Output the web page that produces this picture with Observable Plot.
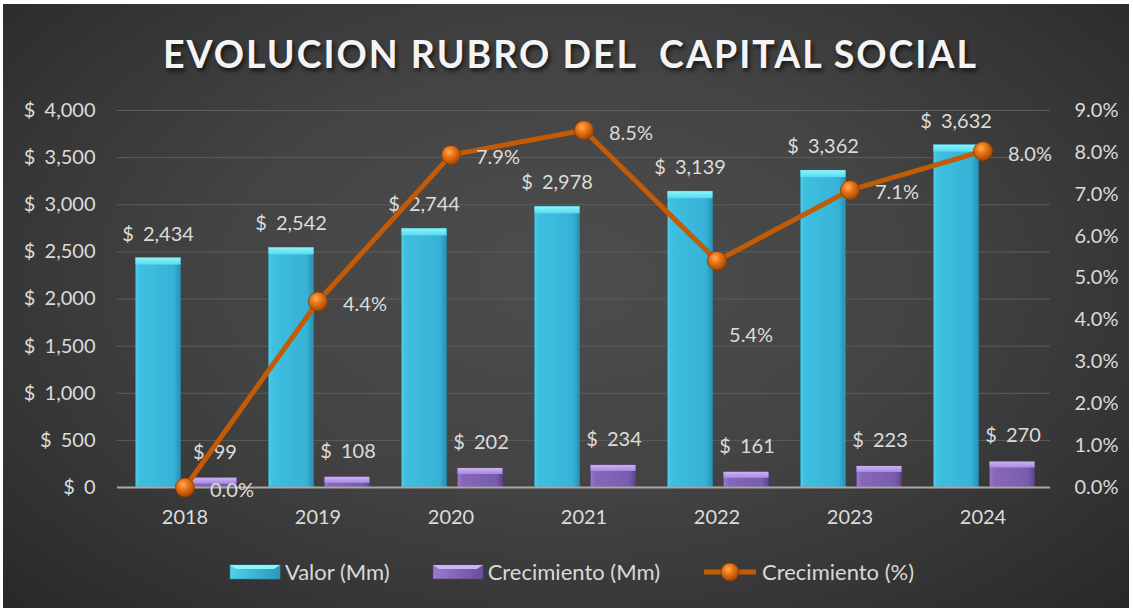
<!DOCTYPE html>
<html>
<head>
<meta charset="utf-8">
<script src="https://cdn.jsdelivr.net/npm/d3@7"></script>
<script src="https://cdn.jsdelivr.net/npm/@observablehq/plot@0.6"></script>
<style>
  html, body { margin: 0; padding: 0; background: #ffffff; }
  #frame {
    position: absolute; left: 3px; top: 4px; width: 1126px; height: 604px;
    background: radial-gradient(ellipse 75% 85% at 50% 45%, #4d4d4d 0%, #444444 40%, #353535 70%, #242424 100%);
    overflow: hidden;
  }
  #title {
    position: absolute; left: 0; top: 31px; width: 1133px; text-align: center;
    font-family: "Lato", sans-serif; font-weight: 700; font-size: 37.5px; letter-spacing: 2px;
    color: #f4f4f4; text-shadow: 2px 3px 4px rgba(0,0,0,0.65); padding-left: 8px; box-sizing: border-box;
    white-space: pre;
  }
  #chart { position: absolute; left: 0; top: 90px; }
  #chart svg text { word-spacing: 4px; }
  #legend {
    position: absolute; left: 0; top: 558px; width: 1133px; display: flex; justify-content: center;
    align-items: center; font-family: "Lato", sans-serif; font-size: 22px; color: #d9d9d9; padding-left: 10px; box-sizing: border-box;
  }
  .item { display: flex; align-items: center; margin: 0 21px; }
  .item svg { margin-right: 4px; }
</style>
</head>
<body>
<div id="frame"></div>
<div id="title">EVOLUCION RUBRO DEL  CAPITAL SOCIAL</div>
<div id="chart"></div>
<div id="legend"></div>
<script>
// ---- data ----
const years = ["2018", "2019", "2020", "2021", "2022", "2023", "2024"];
const valorMm = [2434, 2542, 2744, 2978, 3139, 3362, 3632];
const crecimientoMm = [99, 108, 202, 234, 161, 223, 270];
const crecimientoPct = [0.0, 4.44, 7.94, 8.53, 5.41, 7.10, 8.03];
const yTicks = [0, 500, 1000, 1500, 2000, 2500, 3000, 3500, 4000];
const pctTicks = [0, 1, 2, 3, 4, 5, 6, 7, 8, 9];
const legendLabels = ["Valor (Mm)", "Crecimiento (Mm)", "Crecimiento (%)"];

const yMax = 4000, pctMax = 9;
const toY = p => p * yMax / pctMax;

const rows = years.map((year, i) => ({
  year, valor: valorMm[i], crec: crecimientoMm[i], pct: crecimientoPct[i], pctY: toY(crecimientoPct[i])
}));

const money = d => "$ " + d3.format(",")(d);
const labelColor = "#dcdcdc";
const fs = 20;

const plot = Plot.plot({
  width: 1133,
  height: 457,
  marginTop: 20,
  marginBottom: 60,
  marginLeft: 117,
  marginRight: 83,
  style: { background: "transparent", color: labelColor, fontFamily: "Lato, sans-serif", fontSize: fs + "px" },
  x: { type: "band", domain: years, paddingInner: 0, paddingOuter: 0, label: null },
  y: { domain: [0, yMax], label: null },
  marks: [
    Plot.ruleY(yTicks.slice(1), { stroke: "#5d5d5d", strokeWidth: 1 }),
    // Valor bars
    Plot.barY(rows, { x: "year", y: "valor", fill: "url(#gCyan)", insetLeft: 17.5, insetRight: 70.5, stroke: "#2a8fae", strokeWidth: 0.6 }),
    Plot.barY(rows, { x: "year", y1: "valor", y2: "valor", insetBottom: -7, fill: "url(#gCyanTop)", insetLeft: 17.5, insetRight: 70.5 }),
    // Crecimiento bars
    Plot.barY(rows, { x: "year", y: "crec", fill: "url(#gPurple)", insetLeft: 73.5, insetRight: 14.5, stroke: "#5a3f86", strokeWidth: 0.6 }),
    Plot.barY(rows, { x: "year", y1: "crec", y2: "crec", insetBottom: -6, fill: "url(#gPurpleTop)", insetLeft: 73.5, insetRight: 14.5 }),
    Plot.ruleY([0], { stroke: "#a8a8a8", strokeWidth: 2 }),
    // bar labels
    Plot.text(rows, { x: "year", y: "valor", text: d => money(d.valor), dx: -27, dy: -24, fill: labelColor, fontSize: fs }),
    Plot.text(rows, { x: "year", y: "crec", text: d => money(d.crec), dx: 30, dy: -26, fill: labelColor, fontSize: fs }),
    // line
    Plot.line(rows, { x: "year", y: "pctY", stroke: "#c25a06", strokeWidth: 5, curve: "linear" }),
    Plot.dot(rows, { x: "year", y: "pctY", r: 9.5, fill: "url(#gOrange)", stroke: "#8a3a00", strokeWidth: 0.8 }),
    Plot.text(rows.filter(d => d.year !== "2022"), { x: "year", y: "pctY", text: d => d.pct.toFixed(1) + "%", dx: 25, dy: 3, textAnchor: "start", fill: labelColor, fontSize: fs }),
    Plot.text(rows.filter(d => d.year === "2022"), { x: "year", y: "pctY", text: d => d.pct.toFixed(1) + "%", dx: 34, dy: 75, fill: labelColor, fontSize: fs }),
    // axes
    Plot.axisY(yTicks, { anchor: "left", tickSize: 0, tickPadding: 22, tickFormat: money, label: null, fontSize: fs }),
    Plot.axisY(pctTicks.map(toY), { anchor: "right", tickSize: 0, tickPadding: 24, tickFormat: d => (d * pctMax / yMax).toFixed(1) + "%", label: null, fontSize: fs }),
    Plot.axisX({ tickSize: 0, tickPadding: 22, label: null, fontSize: fs })
  ]
});

const defs = `
<defs>
  <linearGradient id="gCyan" x1="0" y1="0" x2="1" y2="0">
    <stop offset="0" stop-color="#52d0ec"/>
    <stop offset="0.08" stop-color="#3fc0e0"/>
    <stop offset="0.85" stop-color="#36b2d6"/>
    <stop offset="1" stop-color="#2690b4"/>
  </linearGradient>
  <linearGradient id="gCyanTop" x1="0" y1="0" x2="0" y2="1">
    <stop offset="0" stop-color="#8af6fc"/>
    <stop offset="1" stop-color="#5ad8ef"/>
  </linearGradient>
  <linearGradient id="gPurple" x1="0" y1="0" x2="1" y2="0">
    <stop offset="0" stop-color="#9a7ccc"/>
    <stop offset="0.1" stop-color="#8767bb"/>
    <stop offset="0.85" stop-color="#7a5cae"/>
    <stop offset="1" stop-color="#5f4490"/>
  </linearGradient>
  <linearGradient id="gPurpleTop" x1="0" y1="0" x2="0" y2="1">
    <stop offset="0" stop-color="#cdb2f4"/>
    <stop offset="1" stop-color="#a98ae0"/>
  </linearGradient>
  <radialGradient id="gOrange" cx="0.4" cy="0.35" r="0.7">
    <stop offset="0" stop-color="#ffb060"/>
    <stop offset="0.35" stop-color="#ee7a1a"/>
    <stop offset="1" stop-color="#9c4000"/>
  </radialGradient>
</defs>`;
plot.insertAdjacentHTML("afterbegin", defs);
document.getElementById("chart").appendChild(plot);

// legend
const sw = {
  cyan: `<svg width="52" height="16"><rect x="1" y="1" width="50" height="14" fill="url(#lgC)" stroke="#2a8fae" stroke-width="0.6"/><polygon points="1,1 51,1 45,5 7,5" fill="#8af6fc"/><defs><linearGradient id="lgC" x1="0" x2="1"><stop offset="0" stop-color="#52d0ec"/><stop offset="1" stop-color="#2a98bc"/></linearGradient></defs></svg>`,
  purple: `<svg width="52" height="16"><rect x="1" y="1" width="50" height="14" fill="url(#lgP)" stroke="#5a3f86" stroke-width="0.6"/><polygon points="1,1 51,1 45,5 7,5" fill="#cdb2f4"/><defs><linearGradient id="lgP" x1="0" x2="1"><stop offset="0" stop-color="#9a7ccc"/><stop offset="1" stop-color="#6a4e9e"/></linearGradient></defs></svg>`,
  line: `<svg width="56" height="22"><line x1="2" y1="11" x2="54" y2="11" stroke="#c25a06" stroke-width="5"/><circle cx="28" cy="11" r="9" fill="url(#gOrange)" stroke="#8a3a00" stroke-width="0.8"/></svg>`
};
const swList = [sw.cyan, sw.purple, sw.line];
document.getElementById("legend").innerHTML = legendLabels.map((t, i) =>
  `<div class="item">${swList[i]}<span>${t}</span></div>`).join("");
</script>
</body>
</html>
